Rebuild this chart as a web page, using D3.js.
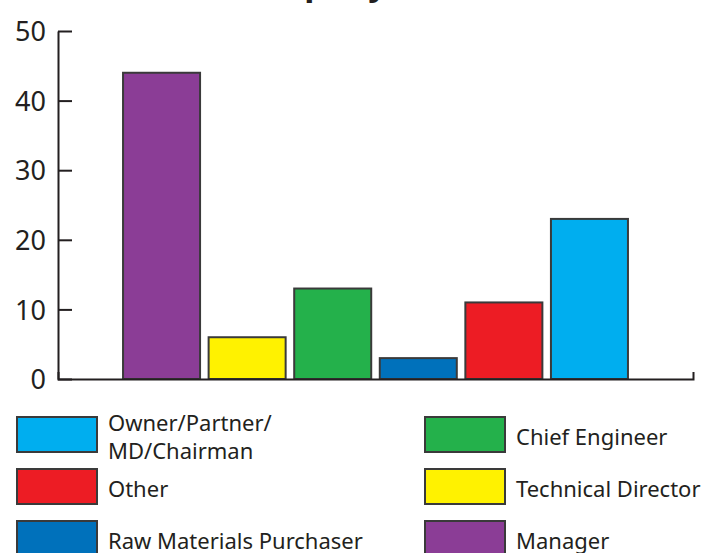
<!DOCTYPE html>
<html>
<head>
<meta charset="utf-8">
<script src="https://cdn.jsdelivr.net/npm/d3@7"></script>
<style>
  body { margin: 0; background: #fff; }
  svg { display: block; font-family: "Noto Sans", sans-serif; }
  .axis path, .axis line { stroke: #231f20; stroke-width: 2; }
  .axis text { font-size: 27px; fill: #231f20; font-family: "Noto Sans", sans-serif; }
  .legend-label { font-size: 22px; fill: #231f20; }
</style>
</head>
<body>
<div id="chart"></div>
<script>
const categories = ['Manager', 'Technical Director', 'Chief Engineer', 'Raw Materials Purchaser', 'Other', 'Owner/Partner/MD/Chairman'];
const values = [44, 6, 13, 3, 11, 23];
const barColors = ['#8b3d96', '#fff200', '#24b14b', '#0071bb', '#ed1c24', '#00aeef'];
const yTicks = [0, 10, 20, 30, 40, 50];
// legend reads in reverse order of bars, two columns
const legendOrder = ['Owner/Partner/MD/Chairman', 'Other', 'Raw Materials Purchaser', 'Chief Engineer', 'Technical Director', 'Manager'];
const legendLines = {
    'Owner/Partner/MD/Chairman': ['Owner/Partner/', 'MD/Chairman']
};

const WIDTH = 705;
const HEIGHT = 553;
const AXIS_LEFT = 58;
const AXIS_RIGHT = 693;
const AXIS_TOP = 31;
const AXIS_BOTTOM = 379;

const svg = d3.select('#chart').append('svg')
    .attr('width', WIDTH)
    .attr('height', HEIGHT);

// title is cut off by the top edge, only descenders show
svg.append('text')
    .attr('x', 228)
    .attr('y', -5)
    .attr('font-size', 34)
    .attr('font-weight', 'bold')
    .attr('fill', '#231f20')
    .text('Company');

const x = d3.scaleBand()
    .domain(categories)
    .range([AXIS_LEFT, AXIS_RIGHT])
    .paddingInner(0.1)
    .paddingOuter(0.76);

const y = d3.scaleLinear()
    .domain([0, 50])
    .range([AXIS_BOTTOM, AXIS_TOP]);

svg.selectAll('.bar')
    .data(categories)
    .join('rect')
    .attr('class', 'bar')
    .attr('x', d => x(d))
    .attr('y', (d, i) => y(values[i]))
    .attr('width', x.bandwidth())
    .attr('height', (d, i) => y(0) - y(values[i]))
    .attr('fill', (d, i) => barColors[i])
    .attr('stroke', '#3a3a3a')
    .attr('stroke-width', 2);

svg.append('g')
    .attr('class', 'axis')
    .attr('transform', `translate(0,${AXIS_BOTTOM})`)
    .call(d3.axisBottom(x).tickSizeInner(0).tickSizeOuter(-7).tickFormat(''));

svg.append('g')
    .attr('class', 'axis')
    .attr('transform', `translate(${AXIS_LEFT},0)`)
    .call(d3.axisLeft(y).tickValues(yTicks).tickSizeInner(-14).tickSizeOuter(0).tickPadding(12))
    .call(g => g.selectAll('text').attr('dy', '0.36em'));

const colorOf = name => barColors[categories.indexOf(name)];

const legend = svg.selectAll('.legend')
    .data(legendOrder)
    .join('g')
    .attr('class', 'legend')
    .attr('transform', (d, i) => `translate(${i < 3 ? 17 : 425},${417 + (i % 3) * 52})`);

legend.append('rect')
    .attr('width', 80)
    .attr('height', 35)
    .attr('fill', colorOf)
    .attr('stroke', '#3a3a3a')
    .attr('stroke-width', 2);

legend.append('text')
    .attr('class', 'legend-label')
    .each(function (d) {
        const lines = legendLines[d] || [d];
        const startY = lines.length > 1 ? 14 : 28;
        d3.select(this).selectAll('tspan')
            .data(lines)
            .join('tspan')
            .attr('x', 91)
            .attr('y', (l, j) => startY + j * 28)
            .text(l => l);
    });
</script>
</body>
</html>
